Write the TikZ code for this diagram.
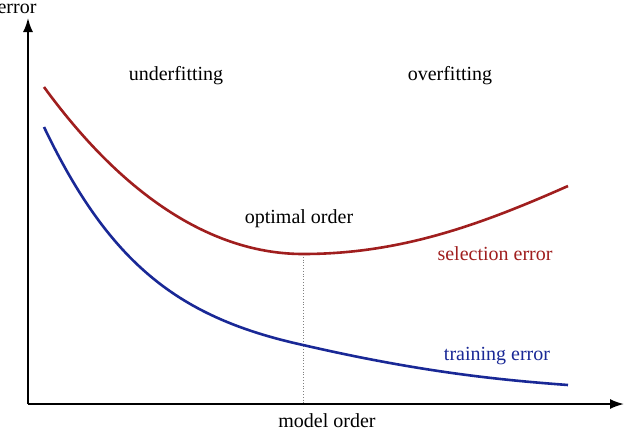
\documentclass[tikz,border=0pt]{standalone}
\usepackage{fontspec}
\usetikzlibrary{arrows.meta}
\setmainfont{Liberation Serif}
\begin{document}
\begin{tikzpicture}[x=1pt,y=-1pt,
  lbl/.style={font=\fontsize{20}{24}\selectfont},
  ax/.style={line width=1.8pt,-{Latex[length=14pt,width=10pt]}},
  crv/.style={line width=2.6pt}]
\useasboundingbox[fill=white] (0,0) rectangle (640,432);
\definecolor{redc}{RGB}{160,30,30}
\definecolor{bluec}{RGB}{25,40,150}
\coordinate (o) at (28,404);
\coordinate (ytop) at (28,18);
\coordinate (xend) at (624,404);
\draw[ax] (o) -- (ytop);
\draw[ax] (o) -- (xend);
\coordinate (r0) at (44,87);
\coordinate (rm) at (303,254);
\coordinate (r1) at (568,186);
\coordinate (b0) at (44,127);
\coordinate (bm) at (303,345);
\coordinate (b1) at (568,385);
\coordinate (base) at (303,404);
\draw[gray,dotted,line width=0.8pt] (rm) -- (base);
\draw[crv,redc] (r0) .. controls (130,205) and (220,254) .. (rm) .. controls (400,254) and (480,225) .. (r1);
\draw[crv,bluec] (b0) .. controls (110,265) and (180,318) .. (bm) .. controls (420,372) and (500,380) .. (b1);
\node[lbl] (err) at (17,9) {error};
\node[lbl] (uf) at (176,76) {underfitting};
\node[lbl] (of) at (450,76) {overfitting};
\node[lbl] (opt) at (299,219) {optimal order};
\node[lbl,text=redc] (se) at (495,254) {selection error};
\node[lbl,text=bluec] (te) at (497,356) {training error};
\node[lbl] (mo) at (327,421) {model order};
\end{tikzpicture}
\end{document}
